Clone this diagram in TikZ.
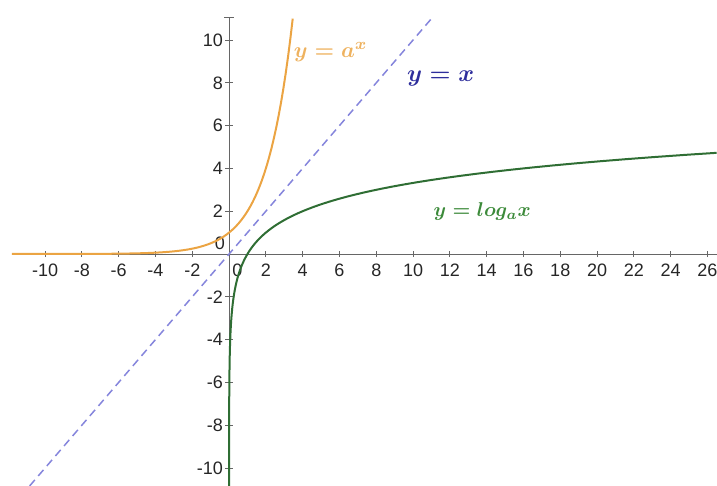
\documentclass[tikz,border=0pt]{standalone}
\usepackage{fontspec}
\setsansfont{Liberation Sans}
\usepackage{amsmath}
\definecolor{Axis}{HTML}{666666}
\definecolor{ExpOrange}{HTML}{EBA443}
\definecolor{LineBlue}{HTML}{8585DC}
\definecolor{LabelBlue}{HTML}{2E2E9C}
\definecolor{LogGreen}{HTML}{2F6E34}
\definecolor{LabelGreen}{HTML}{3C8A3A}

\begin{document}
\begin{tikzpicture}[x=9.2pt,y=10.7pt,
  ticklab/.style={font=\sffamily\small,text=black!85,inner sep=1pt},
  curvelab/.style={anchor=west,inner sep=0pt,font=\fontsize{11}{13}\selectfont\boldmath}]
\useasboundingbox (-12.45,-10.84) rectangle (26.52,11.87);
% axes
\draw[Axis,line width=0.5pt] (-11.8,0) -- (26.52,0);
\draw[Axis,line width=0.5pt] (0,-10.84) -- (0,11.05);
\draw[Axis,line width=0.4pt] (-0.25,11.05) -- (0.25,11.05);
\foreach \x in {-10,-8,-6,-4,-2,2,4,6,8,10,12,14,16,18,20,22,24,26} {\draw[Axis,line width=0.4pt] (\x,-0.15) -- (\x,0.15); \node[ticklab] (xl\x) at (\x,-0.78) {$\text{\sffamily\x}$};}
\foreach \y in {-10,-8,-6,-4,-2,2,4,6,8,10} {\draw[Axis,line width=0.4pt] (-0.2,\y) -- (0.2,\y); \node[ticklab,anchor=east] (yl\y) at (-0.2,\y) {$\text{\sffamily\y}$};}
\node[ticklab] (xl0) at (0.45,-0.78) {0};
\node[ticklab] (yl0) at (-0.5,0.5) {0};
% curves
\draw[LineBlue,line width=0.75pt,dash pattern=on 4pt off 2.6pt] (-10.84,-10.84) -- (11.05,11.05);
\draw[ExpOrange,line width=1pt,domain=-11.8:3.46,samples=120] plot (\x,{2^\x});
\draw[LogGreen,line width=1pt,domain=-10.84:4.729,samples=160] plot ({2^\x},\x);
% labels
\node[curvelab,text=ExpOrange!85] (labexp) at (3.5,9.45) {$y=a^x$};
\node[curvelab,text=LabelBlue,font=\fontsize{11.6}{13}\selectfont\boldmath] (labid) at (9.65,8.2) {$y=x$};
\node[curvelab,text=LabelGreen,font=\fontsize{10.4}{12}\selectfont\boldmath] (lablog) at (11.1,2.0) {$y=log_a x$};
\end{tikzpicture}
\end{document}
